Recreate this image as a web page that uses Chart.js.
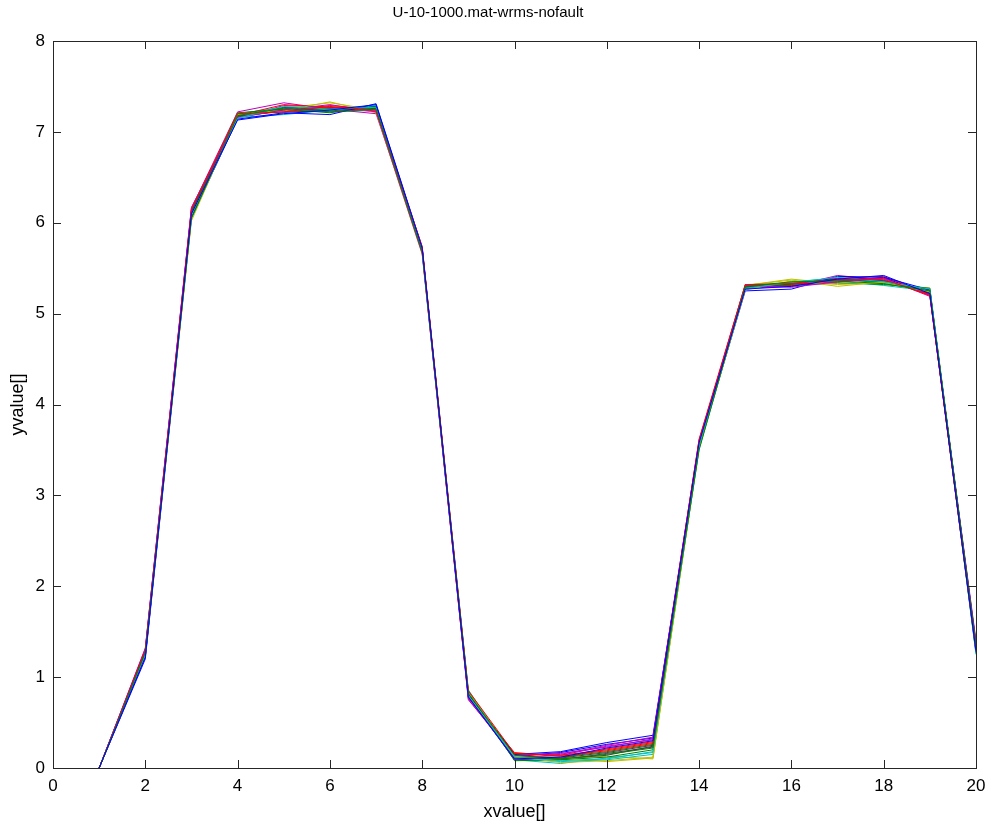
<!DOCTYPE html>
<html>
<head>
<meta charset="utf-8">
<title>U-10-1000.mat-wrms-nofault</title>
<script src="https://cdn.jsdelivr.net/npm/chart.js@4/dist/chart.umd.min.js"></script>
<style>
  html, body { margin: 0; padding: 0; background: #fff; }
  #wrap { width: 991px; height: 829px; position: relative; }
</style>
</head>
<body>
<div id="wrap"><canvas id="grafico"></canvas></div>
<script>
// valores de x (1..20)
const xValues = [1, 2, 3, 4, 5, 6, 7, 8, 9, 10, 11, 12, 13, 14, 15, 16, 17, 18, 19, 20];

// curvas (una por ensayo)
const s1  = [0, 1.22, 6.10, 7.13, 7.20, 7.24, 7.30, 5.72, 0.78, 0.10, 0.12, 0.22, 0.30, 3.58, 5.27, 5.30, 5.38, 5.42, 5.22, 1.28];
const s2  = [0, 1.27, 6.05, 7.18, 7.26, 7.22, 7.25, 5.68, 0.82, 0.14, 0.10, 0.15, 0.22, 3.50, 5.30, 5.35, 5.36, 5.33, 5.25, 1.35];
const s3  = [0, 1.30, 6.15, 7.20, 7.22, 7.28, 7.24, 5.74, 0.85, 0.16, 0.14, 0.20, 0.28, 3.62, 5.32, 5.33, 5.37, 5.38, 5.20, 1.30];
const s4  = [0, 1.25, 6.08, 7.15, 7.28, 7.25, 7.27, 5.70, 0.80, 0.12, 0.08, 0.10, 0.18, 3.55, 5.28, 5.34, 5.40, 5.35, 5.27, 1.26];
const s5  = [0, 1.32, 6.17, 7.16, 7.24, 7.30, 7.22, 5.66, 0.76, 0.11, 0.15, 0.25, 0.34, 3.60, 5.31, 5.29, 5.35, 5.39, 5.19, 1.38];
const s6  = [0, 1.24, 6.02, 7.19, 7.23, 7.33, 7.21, 5.65, 0.83, 0.13, 0.06, 0.08, 0.12, 3.52, 5.26, 5.36, 5.32, 5.34, 5.24, 1.32];
const s7  = [0, 1.28, 6.12, 7.17, 7.27, 7.26, 7.26, 5.71, 0.79, 0.09, 0.11, 0.17, 0.25, 3.56, 5.29, 5.33, 5.38, 5.36, 5.23, 1.29];
const s8  = [0, 1.20, 6.06, 7.14, 7.21, 7.19, 7.31, 5.73, 0.81, 0.15, 0.18, 0.28, 0.36, 3.54, 5.25, 5.27, 5.41, 5.40, 5.26, 1.33];
const s9  = [0, 1.26, 6.13, 7.21, 7.25, 7.21, 7.28, 5.69, 0.84, 0.08, 0.09, 0.12, 0.20, 3.57, 5.30, 5.31, 5.34, 5.32, 5.28, 1.36];
const s10 = [0, 1.23, 6.09, 7.18, 7.30, 7.27, 7.23, 5.67, 0.77, 0.17, 0.13, 0.19, 0.27, 3.59, 5.32, 5.32, 5.39, 5.41, 5.21, 1.27];
const s11 = [0, 1.29, 6.04, 7.16, 7.19, 7.24, 7.29, 5.72, 0.86, 0.10, 0.07, 0.09, 0.15, 3.51, 5.27, 5.35, 5.36, 5.31, 5.25, 1.25];
const s12 = [0, 1.31, 6.16, 7.22, 7.32, 7.25, 7.20, 5.70, 0.75, 0.14, 0.16, 0.23, 0.32, 3.61, 5.28, 5.30, 5.42, 5.37, 5.22, 1.40];
const s13 = [0, 1.27, 6.11, 7.15, 7.26, 7.32, 7.24, 5.68, 0.80, 0.12, 0.12, 0.07, 0.11, 3.53, 5.31, 5.37, 5.30, 5.35, 5.27, 1.31];
const s14 = [0, 1.25, 6.07, 7.19, 7.22, 7.23, 7.27, 5.71, 0.82, 0.11, 0.10, 0.14, 0.24, 3.56, 5.29, 5.33, 5.37, 5.36, 5.24, 1.34];
const s15 = [0, 1.24, 6.10, 7.16, 7.24, 7.26, 7.28, 5.70, 0.79, 0.13, 0.17, 0.26, 0.33, 3.55, 5.28, 5.33, 5.38, 5.39, 5.23, 1.30];
const s16 = [0, 1.28, 6.08, 7.18, 7.25, 7.24, 7.26, 5.69, 0.81, 0.12, 0.12, 0.18, 0.26, 3.57, 5.30, 5.34, 5.37, 5.35, 5.26, 1.33];
const s17 = [0, 1.26, 6.13, 7.17, 7.23, 7.29, 7.25, 5.72, 0.83, 0.15, 0.11, 0.21, 0.29, 3.58, 5.29, 5.32, 5.36, 5.37, 5.21, 1.29];
const s18 = [0, 1.23, 6.06, 7.20, 7.27, 7.22, 7.24, 5.68, 0.78, 0.09, 0.05, 0.11, 0.17, 3.53, 5.27, 5.35, 5.39, 5.33, 5.25, 1.27];
const s19 = [0, 1.30, 6.14, 7.15, 7.29, 7.27, 7.22, 5.71, 0.80, 0.16, 0.14, 0.24, 0.31, 3.59, 5.30, 5.31, 5.35, 5.40, 5.20, 1.37];
const s20 = [0, 1.25, 6.09, 7.19, 7.22, 7.25, 7.26, 5.70, 0.82, 0.11, 0.10, 0.13, 0.10, 3.54, 5.31, 5.38, 5.33, 5.34, 5.28, 1.32];
const s21 = [0, 1.27, 6.11, 7.16, 7.26, 7.25, 7.27, 5.70, 0.81, 0.12, 0.09, 0.16, 0.23, 3.56, 5.29, 5.34, 5.37, 5.36, 5.24, 1.31];

const series = [s1, s2, s3, s4, s5, s6, s7, s8, s9, s10, s11, s12, s13, s14, s15, s16, s17, s18, s19, s20, s21];

// colores por defecto de MATLAB: b g r c m y k
const colores = ['#0000ff', '#008000', '#ff0000', '#00bfbf', '#bf00bf', '#bfbf00', '#404040'];

// Ticks hacia dentro en los cuatro lados + caja
const cajaPlugin = {
    id: 'caja',
    afterDatasetsDraw(chart) {
        const { ctx, chartArea: a, scales: { x, y } } = chart;
        const len = 8;
        ctx.save();
        ctx.strokeStyle = '#262626';
        ctx.lineWidth = 1;
        ctx.beginPath();
        x.ticks.forEach(t => {
            const px = Math.round(x.getPixelForValue(t.value)) + 0.5;
            ctx.moveTo(px, a.bottom); ctx.lineTo(px, a.bottom - len);
            ctx.moveTo(px, a.top); ctx.lineTo(px, a.top + len);
        });
        y.ticks.forEach(t => {
            const py = Math.round(y.getPixelForValue(t.value)) + 0.5;
            ctx.moveTo(a.left, py); ctx.lineTo(a.left + len, py);
            ctx.moveTo(a.right, py); ctx.lineTo(a.right - len, py);
        });
        ctx.stroke();
        ctx.strokeRect(Math.round(a.left) + 0.5, Math.round(a.top) + 0.5,
            Math.round(a.right - a.left), Math.round(a.bottom - a.top));
        ctx.restore();
    }
};

const fuente = "'Liberation Sans', Arial, Helvetica, sans-serif";

new Chart(document.getElementById('grafico'), {
    type: 'line',
    data: {
        datasets: series.map((s, i) => ({
            label: 's' + (i + 1),
            data: xValues.map((xv, j) => ({ x: xv, y: s[j] })),
            borderColor: colores[i % colores.length],
            borderWidth: 1,
            pointRadius: 0,
            fill: false,
            tension: 0
        }))
    },
    options: {
        responsive: true,
        maintainAspectRatio: false,
        animation: false,
        layout: { padding: { left: 0, right: 15, top: 0, bottom: 0 } },
        plugins: {
            legend: { display: false },
            tooltip: { enabled: false },
            title: {
                display: true,
                text: 'U-10-1000.mat-wrms-nofault',
                color: '#000',
                font: { family: fuente, size: 15, weight: 'normal', lineHeight: 1.2 },
                padding: { top: 4, bottom: 19 }
            }
        },
        scales: {
            x: {
                type: 'linear',
                min: 0,
                max: 20,
                grid: { display: false, drawTicks: false },
                border: { display: false },
                ticks: { stepSize: 2, color: '#000', padding: 8, maxRotation: 0,
                    font: { family: fuente, size: 17 } },
                title: { display: true, text: 'xvalue[]', color: '#000',
                    font: { family: fuente, size: 18 }, padding: { top: 0, bottom: 6 } },
                afterFit(scale) {
                    scale.height = 61;
                    scale.paddingLeft = 0;
                    scale.paddingRight = 0;
                }
            },
            y: {
                type: 'linear',
                min: 0,
                max: 8,
                grid: { display: false, drawTicks: false },
                border: { display: false },
                ticks: { stepSize: 1, color: '#000', padding: 8,
                    font: { family: fuente, size: 17 } },
                title: { display: true, text: 'yvalue[]', color: '#000',
                    font: { family: fuente, size: 18 }, padding: { top: 7, bottom: 0 } },
                afterFit(scale) {
                    scale.width = 53;
                    scale.paddingTop = 0;
                    scale.paddingBottom = 0;
                }
            }
        }
    },
    plugins: [cajaPlugin]
});
</script>
</body>
</html>
